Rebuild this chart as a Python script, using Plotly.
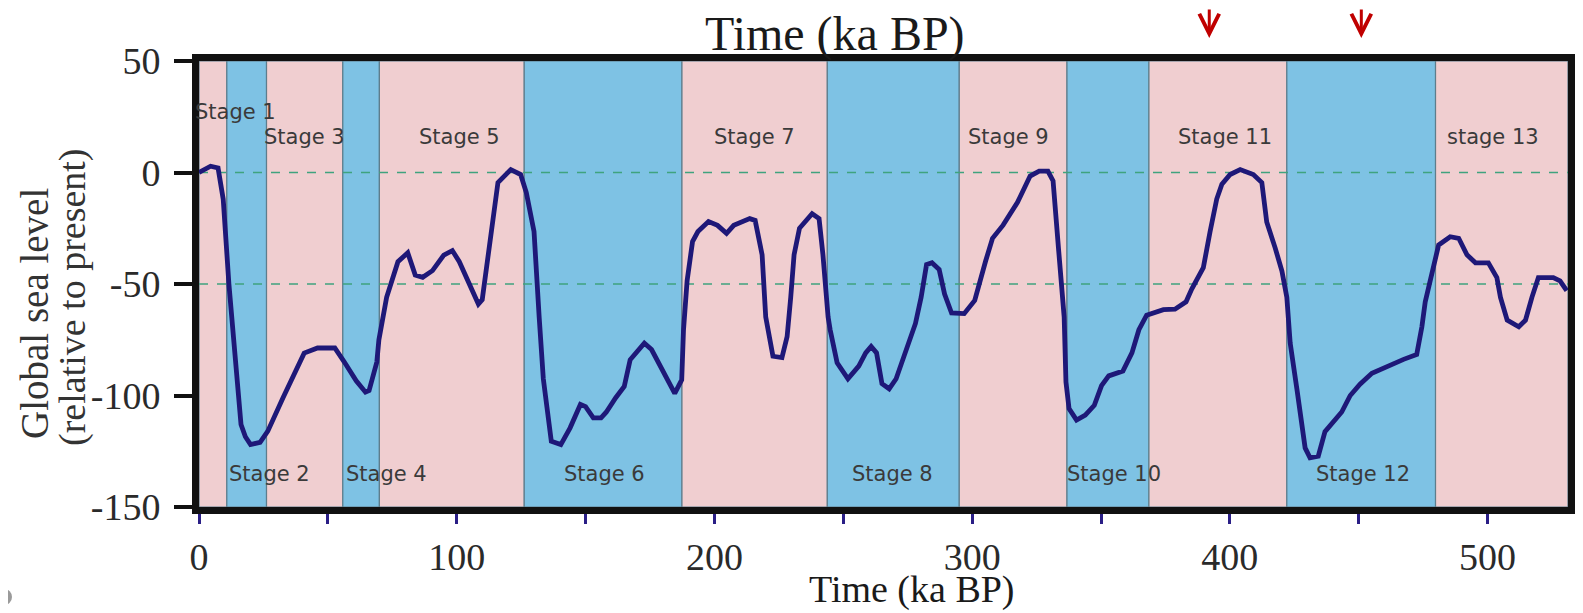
import plotly.graph_objects as go

# ---------------- data ----------------
time_ka = [0, 2, 4.5, 7.4, 9.4, 11.6, 14, 16.3, 18, 20, 23.7, 26.7, 32.6, 37, 40.8, 46, 52.7,
           56.4, 61, 64.6, 66, 69, 69.8, 72.8, 77.2, 81, 83.9, 86.8, 90.6, 95, 98.3, 101,
           104.7, 108.4, 109.9, 113.6, 116, 121, 124.8, 127, 130, 132, 133.6, 136.7, 140.4,
           144, 148, 150, 153, 156, 158, 161.7, 165, 167.3, 170, 172.8, 175.6, 179.7, 184.6,
           187.3, 188, 189.4, 191.5, 193.6, 197.7, 201.2, 204.7, 207.5, 213.7, 215.8, 218.5,
           219.9, 222.7, 226.2, 228.2, 229.6, 230.9, 233, 237.9, 240.6, 242.1, 244.1, 244.9,
           247.6, 251.8, 256, 258.7, 260.8, 262.9, 265, 267.8, 270.5, 274.7, 278, 280.2,
           282.3, 284.4, 287.2, 289.3, 292, 296.9, 301, 305.2, 307.9, 312, 317.6, 322.5,
           326, 329.4, 331.4, 333.6, 335.7, 336.4, 337.6, 340.5, 343.9, 347.4, 350.2, 353,
           358.5, 362, 364.7, 367.7, 374.2, 378.7, 383, 385.2, 389.7, 392.3, 394.9, 396.9,
           400.1, 404, 409.1, 412.4, 414.3, 417.6, 420.2, 422.1, 423.4, 426, 427.9, 429.2,
           431.1, 434.3, 436.9, 440.2, 443.4, 446.7, 450.5, 455.1, 460.9, 467.4, 472.5,
           474.5, 475.8, 477.7, 481, 485.5, 488.8, 492, 495.3, 500.3, 503.6, 505, 507.6,
           512.1, 514.7, 517.2, 519.7, 525.5, 528.1, 530.7]
sea_level = [0, 1.5, 2.8, 2, -12, -50, -85, -113, -118.5, -122, -121, -116, -101, -90, -81,
             -78.7, -78.7, -85, -93.4, -98.5, -97.8, -85, -75, -56, -40, -36, -46, -47, -44,
             -37, -35, -40, -49, -59, -57, -26.5, -4.5, 1.3, -0.9, -9, -26.5, -65, -92.5,
             -120.5, -122, -114.5, -104, -105, -110, -110, -107.5, -101, -96, -84, -80,
             -76.5, -79.4, -88, -99, -93, -70.5, -48.5, -31, -26.5, -22, -23.7, -27.3, -23.7,
             -20.7, -21.5, -36.9, -64.8, -82.4, -83, -73.6, -56, -36.9, -25, -18.5, -20.7,
             -36.9, -64.8, -70.5, -85.3, -92.5, -86.8, -80.9, -78, -80.9, -94.7, -97, -92.5,
             -79.3, -67.7, -56, -41.3, -40.5, -43.5, -54.5, -63, -63.3, -57.4, -39.8, -29.5,
             -23.6, -13.4, -1.6, 0.6, 0.6, -3.8, -35.4, -64.8, -94, -105.9, -111, -108.8,
             -104.4, -95.6, -91.2, -89, -80.9, -70.5, -64, -61.5, -61.3, -58, -52.3, -42.7,
             -26.6, -11.9, -5.3, -0.9, 1.3, -0.9, -4.5, -22.2, -33.9, -44.2, -56, -76.5, -97,
             -111.8, -123.5, -127.9, -127.2, -116.2, -111.8, -107.4, -100, -94.9, -90, -86.8,
             -83.8, -81.6, -69.2, -58, -48.6, -32.5, -28.8, -29.5, -36.9, -40.5, -40.5, -47.1,
             -56, -66.2, -69.2, -66.2, -56, -47.1, -47.1, -48.6, -53]

stage_bounds = [0, 10.8, 26.2, 55.8, 70, 126.2, 187.4, 243.8, 295, 336.8, 368.6, 422.1, 479.8, 531.2]
stage_names = ["Stage 1", "Stage 2", "Stage 3", "Stage 4", "Stage 5", "Stage 6", "Stage 7",
               "Stage 8", "Stage 9", "Stage 10", "Stage 11", "Stage 12", "stage 13"]
stage_label_x = [14, 27.4, 40.8, 72.8, 101.2, 157.3, 215.6, 269.1, 314.2, 355, 398.2, 451.7, 502]
stage_label_y = [27.3, -135, 16, -135, 16, -135, 16, -135, 16, -135, 16, -135, 16]

ref_levels = [0, -50]
arrow_times = [392, 451]

x_tickvals = [0, 50, 100, 150, 200, 250, 300, 350, 400, 450, 500]
x_ticktext = ["0", "", "100", "", "200", "", "300", "", "400", "", "500"]
y_tickvals = [50, 0, -50, -100, -150]
y_ticktext = ["50", "0", "-50", "-100", "-150"]

# ---------------- style / layout ----------------
PINK = "#F0CED0"
BLUE = "#7EC2E4"
EDGE = "#5E7D8C"
LINE = "#1E1878"
SERIF = "Liberation Serif, Times New Roman, serif"

X_RANGE = [0, 531.2]
Y_RANGE = [-150, 50]

OFF = 8                      # page body margin
W, H = 1583 - OFF, 613 - OFF
L, R, T, B = 191, 15, 53, 106
PW, PH = W - L - R, H - T - B


def px(xf):   # window x pixel -> paper x
    return (xf - OFF - L) / PW


def py(yf):   # window y pixel -> paper y
    return ((T + PH) - (yf - OFF)) / PH


fig = go.Figure()

shapes = []
for i in range(len(stage_bounds) - 1):
    shapes.append(dict(type="rect", xref="x", yref="y",
                       x0=stage_bounds[i], x1=stage_bounds[i + 1],
                       y0=Y_RANGE[0], y1=Y_RANGE[1],
                       fillcolor=PINK if i % 2 == 0 else BLUE,
                       line=dict(color=EDGE, width=1.2), layer="below"))
for lv in ref_levels:
    shapes.append(dict(type="line", xref="x", yref="y", x0=X_RANGE[0], x1=X_RANGE[1],
                       y0=lv, y1=lv, line=dict(color="#3FA37E", width=1.6, dash="9px,9px"),
                       layer="below"))
# slide bullet dot (partly off the page edge)
shapes.append(dict(type="circle", xref="paper", yref="paper",
                   x0=px(-4), x1=px(12), y0=py(605), y1=py(589),
                   fillcolor="#9A9A9A", line=dict(width=0)))

fig.add_trace(go.Scatter(x=time_ka, y=sea_level, mode="lines",
                         line=dict(color=LINE, width=4.8), showlegend=False,
                         hoverinfo="skip"))

annotations = []
for name, lx, ly in zip(stage_names, stage_label_x, stage_label_y):
    annotations.append(dict(x=lx, y=ly, xref="x", yref="y", text=name, showarrow=False,
                            xanchor="center", yanchor="middle",
                            font=dict(family="DejaVu Sans", size=21, color="#3A3A3A")))
for t in arrow_times:
    annotations.append(dict(x=t, y=py(38), xref="x", yref="paper", text="",
                            showarrow=True, ax=0, ay=-40, arrowhead=5, arrowsize=1.3,
                            arrowwidth=3, arrowcolor="#C00000", standoff=0))
annotations.append(dict(x=px(835), y=py(34), xref="paper", yref="paper",
                        text="Time (ka BP)", showarrow=False,
                        xanchor="center", yanchor="middle",
                        font=dict(family=SERIF, size=48, color="#1a1a1a")))
annotations.append(dict(x=px(912), y=py(589), xref="paper", yref="paper",
                        text="Time (ka BP)", showarrow=False,
                        xanchor="center", yanchor="middle",
                        font=dict(family=SERIF, size=38, color="#1a1a1a")))
annotations.append(dict(x=px(34), y=py(314), xref="paper", yref="paper",
                        text="Global sea level", showarrow=False,
                        textangle=-90, xanchor="center", yanchor="middle",
                        font=dict(family=SERIF, size=39, color="#333333")))
annotations.append(dict(x=px(72), y=py(297), xref="paper", yref="paper",
                        text="(relative to present)", showarrow=False,
                        textangle=-90, xanchor="center", yanchor="middle",
                        font=dict(family=SERIF, size=38, color="#333333")))

fig.update_layout(
    width=W, height=H,
    margin=dict(l=L, r=R, t=T, b=B, autoexpand=False),
    paper_bgcolor="white", plot_bgcolor="white",
    shapes=shapes, annotations=annotations, showlegend=False,
    xaxis=dict(range=X_RANGE, showgrid=False, zeroline=False, automargin=False,
               showline=True, linecolor="#111111", linewidth=7, mirror=True,
               tickmode="array", tickvals=x_tickvals, ticktext=x_ticktext,
               ticks="outside", ticklen=10, tickwidth=3, tickcolor="#2A1E86",
               tickfont=dict(family=SERIF, size=38, color="#2a2a2a")),
    yaxis=dict(range=Y_RANGE, showgrid=False, zeroline=False, automargin=False,
               showline=True, linecolor="#111111", linewidth=7, mirror="ticks",
               tickmode="array", tickvals=y_tickvals, ticktext=y_ticktext,
               ticks="outside", ticklen=18, tickwidth=4, tickcolor="#111111",
               ticklabelstandoff=6,
               tickfont=dict(family=SERIF, size=38, color="#2a2a2a")),
)

fig.write_html("out.html")
